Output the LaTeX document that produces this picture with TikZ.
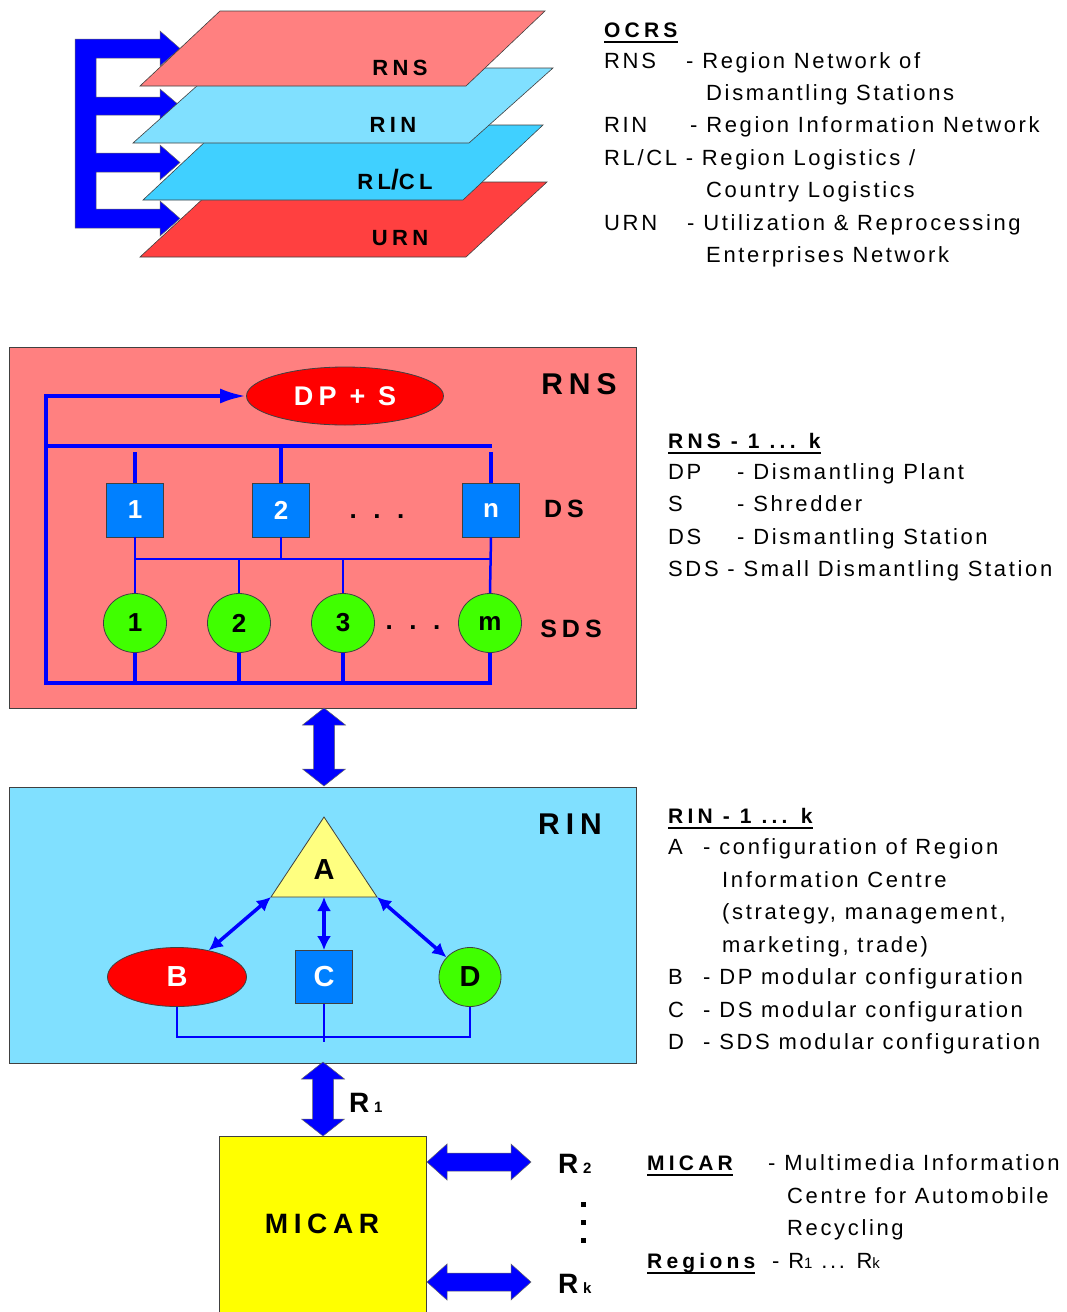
\documentclass[tikz,border=0pt]{standalone}
\usepackage{fontspec}
\setmainfont{Liberation Sans}[LetterSpace=12,BoldFeatures={LetterSpace=20}]
\usetikzlibrary{arrows.meta,shapes.geometric,calc}
\definecolor{rnsfill}{RGB}{255,128,128}
\definecolor{rinfill}{RGB}{128,224,255}
\definecolor{rlclfill}{RGB}{64,208,255}
\definecolor{urnfill}{RGB}{255,64,64}
\definecolor{dsblue}{RGB}{0,128,255}
\definecolor{sdsgreen}{RGB}{64,255,0}
\definecolor{lineblue}{RGB}{0,0,255}
\definecolor{trifill}{RGB}{255,255,128}
\definecolor{micarfill}{RGB}{255,255,0}
\newcommand\myfs[1]{\fontsize{#1}{#1}\selectfont}
\tikzset{
  leg/.style={anchor=base west, inner sep=0pt, font=\myfs{22}},
  legb/.style={anchor=base west, inner sep=0pt, font=\myfs{21}\bfseries},
  lbl/.style={inner sep=0pt, font=\myfs{#1}\bfseries},
  lbl/.default=30,
  outl/.style={draw=black!75, line width=0.8pt},
  fat/.style={fill=lineblue, draw=black!60, line width=0.5pt},
  layer/.style={outl, line width=0.6pt},
  thickln/.style={draw=lineblue, line width=4pt},
  thinln/.style={draw=lineblue, line width=2.5pt},
  dsbox/.style={rectangle, outl, fill=dsblue, minimum width=57pt, minimum height=54pt, inner sep=0pt, text=white, font=\myfs{26}\bfseries},
  sds/.style={ellipse, outl, fill=sdsgreen, minimum width=63pt, minimum height=59pt, inner sep=0pt, font=\myfs{26}\bfseries},
  dbl/.style={draw=lineblue, line width=3.5pt, {Latex[length=14pt,width=14pt]}-{Latex[length=14pt,width=14pt]}},
  uline/.style={draw=black, line width=1.6pt}
}
\newcommand\fatV[3]{% x, ytop, ybottom
  \draw[fat] (#1,#2) -- ({#1+21.5},{#2+17}) -- ({#1+10.5},{#2+17}) -- ({#1+10.5},{#3-17}) -- ({#1+21.5},{#3-17}) -- (#1,#3) -- ({#1-21.5},{#3-17}) -- ({#1-10.5},{#3-17}) -- ({#1-10.5},{#2+17}) -- ({#1-21.5},{#2+17}) -- cycle;}
\newcommand\fatH[3]{% y, xleft, xright
  \draw[fat] (#2,#1) -- ({#2+20},{#1-18}) -- ({#2+20},{#1-9}) -- ({#3-20},{#1-9}) -- ({#3-20},{#1-18}) -- (#3,#1) -- ({#3-20},{#1+18}) -- ({#3-20},{#1+9}) -- ({#2+20},{#1+9}) -- ({#2+20},{#1+18}) -- cycle;}
\begin{document}
\begin{tikzpicture}[x=1pt,y=-1pt]
\useasboundingbox (0,0) rectangle (1066,1312);
\fill[white] (0,0) rectangle (1066,1312);

% ---------- top: layer stack ----------
\draw[fat] (75,39) -- (160,39) -- (160,31) -- (180,48.5) -- (160,66) -- (160,58) -- (96,58)
  -- (96,97) -- (160,97) -- (160,89) -- (180,106) -- (160,123) -- (160,115) -- (96,115)
  -- (96,153) -- (160,153) -- (160,145) -- (180,162.5) -- (160,180) -- (160,172) -- (96,172)
  -- (96,209) -- (160,209) -- (160,201) -- (180,218.5) -- (160,236) -- (160,228) -- (75,228) -- cycle;
\draw[layer, fill=urnfill] (140,257) -- (466,257) -- (547,182) -- (221,182) -- cycle;
\draw[layer, fill=rlclfill] (143,200) -- (463,200) -- (543,125) -- (223,125) -- cycle;
\draw[layer, fill=rinfill] (133,143) -- (469,143) -- (553,68) -- (217,68) -- cycle;
\draw[layer, fill=rnsfill] (140,86) -- (466,86) -- (545,11) -- (220,11) -- cycle;
\node[lbl=22] (lrns) at (400,68) {RNS};
\node[lbl=22] (lrin) at (393,125) {RIN};
\node[lbl=22] (lrlcl) at (395,180) {RL{\myfs{28}/}CL};
\node[lbl=22] (lurn) at (400,238) {URN};

% ---------- top legend ----------
\node[legb] (ocrs) at (604,37.5) {OCRS};
\draw[uline] ([yshift=-4.5pt]ocrs.base west) -- ([yshift=-4.5pt]ocrs.base east);
\node[leg] (t1a) at (604,68.5) {RNS};
\node[leg] (t1b) at (686,68.5) {- Region Network of};
\node[leg] (t2) at (706,100.5) {Dismantling Stations};
\node[leg] (t3a) at (604,132.5) {RIN};
\node[leg] (t3b) at (690,132.5) {- Region Information Network};
\node[leg] (t4) at (604,165.5) {RL/CL - Region Logistics /};
\node[leg] (t5) at (706,197.5) {Country Logistics};
\node[leg] (t6a) at (604,230.5) {URN};
\node[leg] (t6b) at (687,230.5) {- Utilization \& Reprocessing};
\node[leg] (t7) at (706,262.5) {Enterprises Network};

% ---------- RNS box ----------
\node[outl, fill=rnsfill, minimum width=627pt, minimum height=361pt, anchor=north west, inner sep=0pt] (rnsbox) at (9,347) {};
\node[lbl=30] (rnslabel) at (579,384) {RNS};
\node[ellipse, outl, fill=red, minimum width=197pt, minimum height=58pt, inner sep=0pt, text=white, font=\myfs{27}\bfseries] (dps) at (345,396) {DP + S};
\node[dsbox] (ds1) at (135,510) {1};
\node[dsbox] (ds2) at (281,510) {2};
\node[dsbox] (dsn) at (491,510) {n};
\node[lbl=26] (dots1) at (377,517) {. . .};
\node[lbl=25] (dslabel) at (564,509) {DS};
\node[sds] (sds1) at (135,623) {1};
\node[sds] (sds2) at (239,623) {2};
\node[sds] (sds3) at (343,623) {3};
\node[sds] (sdsm) at (490,623) {m};
\node[lbl=26] (dots2) at (413,628) {. . .};
\node[lbl=25] (sdslabel) at (571,629) {SDS};
\coordinate (bl) at (46,683);
\coordinate (br) at (492,683);
\coordinate (tl) at (46,446);
\coordinate (tr) at (492,446);
% thin connections
\draw[thinln] (ds1.south) -- (sds1.north);
\draw[thinln] (dsn.south) -- (sdsm.north);
\draw[thinln] (ds1.south |- 0,559) -- (dsn.south |- 0,559);
\draw[thinln] (ds2.south) -- (ds2.south |- 0,559);
\draw[thinln] (sds2.north) -- (sds2.north |- 0,559);
\draw[thinln] (sds3.north) -- (sds3.north |- 0,559);
% thick connections
\draw[thickln, -{Latex[length=26pt,width=15pt]}] (br) -- (bl) -- (bl |- dps.west) -- (dps.west);
\draw[thickln] (tl) -- (tr);
\draw[thickln] (ds1.north) -- (ds1.north |- 0,452);
\draw[thickln] (ds2.north) -- (ds2.north |- tl);
\draw[thickln] (dsn.north) -- (dsn.north |- 0,452);
\draw[thickln] (sds1.south) -- (sds1.south |- bl);
\draw[thickln] (sds2.south) -- (sds2.south |- bl);
\draw[thickln] (sds3.south) -- (sds3.south |- bl);
\draw[thickln] (sdsm.south) -- (sdsm.south |- bl);

% ---------- RNS legend ----------
\node[legb] (h2) at (668,448.5) {RNS - 1 ... k};
\draw[uline] ([yshift=-4.5pt]h2.base west) -- ([yshift=-4.5pt]h2.base east);
\node[leg] (r1a) at (668,479.5) {DP};
\node[leg] (r1b) at (737,479.5) {- Dismantling Plant};
\node[leg] (r2a) at (668,511.5) {S};
\node[leg] (r2b) at (737,511.5) {- Shredder};
\node[leg] (r3a) at (668,544.5) {DS};
\node[leg] (r3b) at (737,544.5) {- Dismantling Station};
\node[leg] (r4) at (668,576.5) {SDS - Small Dismantling Station};

% ---------- arrow RNS <-> RIN ----------
\fatV{324}{708}{786}

% ---------- RIN box ----------
\node[outl, fill=rinfill, minimum width=627pt, minimum height=276pt, anchor=north west, inner sep=0pt] (rinbox) at (9,787) {};
\node[lbl=30] (rinlabel) at (570,824) {RIN};
\coordinate (Atop) at (324,817);
\coordinate (Abl) at (271,897);
\coordinate (Abr) at (377,897);
\coordinate (Abm) at (324,897);
\draw[outl, fill=trifill] (Atop) -- (Abr) -- (Abl) -- cycle;
\node[lbl=29] (A) at (324,870) {A};
\node[ellipse, outl, fill=red, minimum width=139pt, minimum height=59pt, inner sep=0pt, text=white, font=\myfs{29}\bfseries] (B) at (177,977) {B};
\node[rectangle, outl, fill=dsblue, minimum width=57pt, minimum height=53pt, inner sep=0pt, text=white, font=\myfs{29}\bfseries] (C) at (324,977) {C};
\node[ellipse, outl, fill=sdsgreen, minimum width=62pt, minimum height=59pt, inner sep=0pt, font=\myfs{29}\bfseries] (D) at (470,977) {D};
\draw[dbl] (Abl) -- (B.40);
\draw[dbl] (Abm) -- (C.north);
\draw[dbl] (Abr) -- (D.140);
\draw[draw=lineblue, line width=2.5pt] (B.south) -- ++(0,30) -| (D.south);
\draw[draw=lineblue, line width=2.5pt] (C.south) -- ++(0,38);

% ---------- RIN legend ----------
\node[legb] (h3) at (668,823.5) {RIN - 1 ... k};
\draw[uline] ([yshift=-4.5pt]h3.base west) -- ([yshift=-4.5pt]h3.base east);
\node[leg] (a1) at (668,854.5) {A};
\node[leg] (a2) at (703,854.5) {- configuration of Region};
\node[leg] (a3) at (722,887.5) {Information Centre};
\node[leg] (a4) at (722,919.5) {(strategy, management,};
\node[leg] (a5) at (722,952.5) {marketing, trade)};
\node[leg] (b1) at (668,984.5) {B};
\node[leg] (b2) at (703,984.5) {- DP modular configuration};
\node[leg] (c1) at (668,1017.5) {C};
\node[leg] (c2) at (703,1017.5) {- DS modular configuration};
\node[leg] (d1) at (668,1049.5) {D};
\node[leg] (d2) at (703,1049.5) {- SDS modular configuration};

% ---------- MICAR ----------
\fatV{323}{1062}{1136}
\node[outl, fill=micarfill, minimum width=207pt, minimum height=190pt, anchor=north west, inner sep=0pt] (micar) at (219,1136) {};
\node[lbl=28] (micarlabel) at (322,1224) {MICAR};
\node[anchor=base west, inner sep=0pt, font=\myfs{28}\bfseries] (R1) at (349,1112) {R\,{\myfs{15}1}};
\fatH{1162}{427}{531}
\fatH{1282}{427}{531}
\node[anchor=base west, inner sep=0pt, font=\myfs{28}\bfseries] (R2) at (558,1173) {R\,{\myfs{15}2}};
\node[anchor=base west, inner sep=0pt, font=\myfs{28}\bfseries] (Rk) at (558,1293) {R\,{\myfs{15}k}};
\fill[black] (580.5,1201.5) rectangle ++(5,5);
\fill[black] (580.5,1219.5) rectangle ++(5,5);
\fill[black] (580.5,1237.5) rectangle ++(5,5);

% ---------- MICAR legend ----------
\node[legb] (h4) at (647,1170.5) {MICAR};
\draw[uline] ([yshift=-4.5pt]h4.base west) -- ([yshift=-4.5pt]h4.base east);
\node[leg] (m1) at (768,1170.5) {- Multimedia Information};
\node[leg] (m2) at (787,1203.5) {Centre for Automobile};
\node[leg] (m3) at (787,1235.5) {Recycling};
\node[legb] (h5) at (647,1268.5) {Regions};
\draw[uline] ([yshift=-4.5pt]h5.base west) -- ([yshift=-4.5pt]h5.base east);
\node[leg] (m4) at (772,1268.5) {- R{\myfs{15}1} ... R{\myfs{15}k}};
\end{tikzpicture}
\end{document}
